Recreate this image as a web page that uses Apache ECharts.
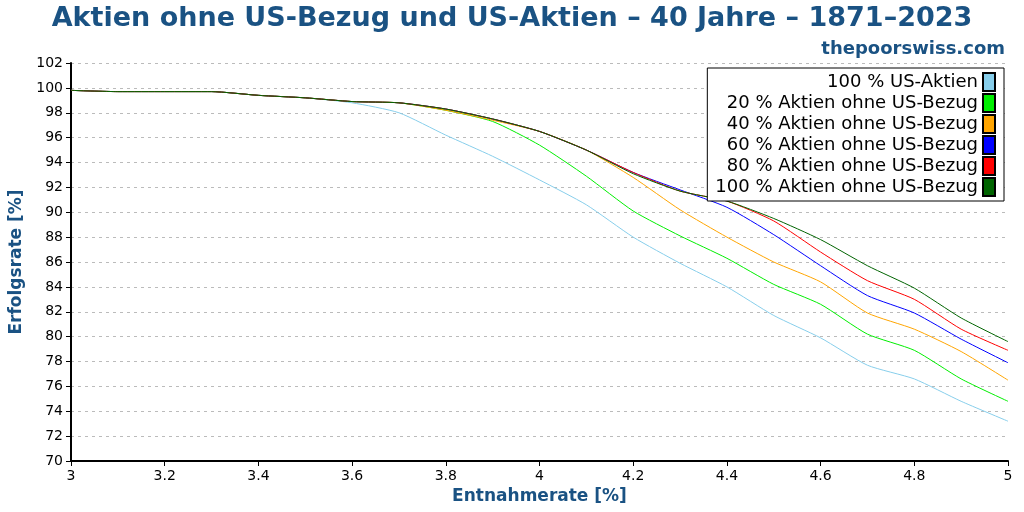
<!DOCTYPE html>
<html lang="de">
<head>
    <meta charset="UTF-8">
    <title>Aktien ohne US-Bezug</title>
    <script src="https://cdn.jsdelivr.net/npm/echarts@6/dist/echarts.min.js"></script>
</head>
<body style="margin:0">
    <div id="main" style="width:1024px;height:512px"></div>
    <script>
        // Entnahmerate in %
        var rates = ['3', '3.1', '3.2', '3.3', '3.4', '3.5', '3.6', '3.7', '3.8', '3.9', '4', '4.1', '4.2', '4.3', '4.4', '4.5', '4.6', '4.7', '4.8', '4.9', '5'];
        var names = ['100 % US-Aktien', '20 % Aktien ohne US-Bezug', '40 % Aktien ohne US-Bezug', '60 % Aktien ohne US-Bezug', '80 % Aktien ohne US-Bezug', '100 % Aktien ohne US-Bezug'];
        var colors = ['#87ceeb', '#00ee00', '#ffa500', '#0000ff', '#ff0000', '#006400'];

        var us100 = [99.8, 99.7, 99.7, 99.7, 99.4, 99.2, 98.8, 98.0, 96.2, 94.5, 92.6, 90.6, 88.0, 85.9, 84.0, 81.7, 79.9, 77.7, 76.6, 74.8, 73.2];
        var exus20 = [99.8, 99.7, 99.7, 99.7, 99.4, 99.2, 98.9, 98.8, 98.2, 97.3, 95.4, 92.9, 90.1, 88.1, 86.3, 84.2, 82.6, 80.2, 78.9, 76.6, 74.8];
        var exus40 = [99.8, 99.7, 99.7, 99.7, 99.4, 99.2, 98.9, 98.8, 98.2, 97.4, 96.5, 95.0, 92.8, 90.2, 88.0, 86.0, 84.4, 81.9, 80.6, 78.8, 76.5];
        var exus60 = [99.8, 99.7, 99.7, 99.7, 99.4, 99.2, 98.9, 98.8, 98.3, 97.5, 96.5, 95.0, 93.2, 91.8, 90.4, 88.2, 85.7, 83.3, 81.9, 79.8, 77.9];
        var exus80 = [99.8, 99.7, 99.7, 99.7, 99.4, 99.2, 98.9, 98.8, 98.3, 97.5, 96.5, 95.0, 93.2, 91.7, 90.9, 89.3, 86.8, 84.5, 83.0, 80.6, 78.9];
        var exus100 = [99.8, 99.7, 99.7, 99.7, 99.4, 99.2, 98.9, 98.8, 98.3, 97.5, 96.5, 95.0, 93.1, 91.7, 90.9, 89.5, 87.8, 85.7, 83.9, 81.5, 79.6];
        var allData = [us100, exus20, exus40, exus60, exus80, exus100];

        var myChart = echarts.init(document.getElementById('main'));

        var series = [];
        for (var i = 0; i < names.length; i++) {
            var pts = [];
            for (var j = 0; j < rates.length; j++) {
                pts.push([Number(rates[j]), allData[i][j]]);
            }
            series.push({
                name: names[i],
                type: 'line',
                data: pts,
                showSymbol: false,
                smooth: 0.2,
                lineStyle: { width: 1, color: colors[i] },
                itemStyle: { color: colors[i], borderColor: '#000', borderWidth: 1 }
            });
        }

        var option = {
            animation: false,
            textStyle: { fontFamily: 'DejaVu Sans' },
            title: [{
                text: 'Aktien ohne US-Bezug und US-Aktien – 40 Jahre – 1871–2023',
                left: 'center', top: 0,
                textStyle: { color: '#1a5283', fontSize: 27, fontWeight: 'bold' }
            }, {
                text: 'thepoorswiss.com',
                right: 14, top: 35,
                textStyle: { color: '#1a5283', fontSize: 18, fontWeight: 'bold' }
            }],
            legend: {
                data: names,
                orient: 'vertical',
                right: 20, top: 68,
                align: 'right',
                icon: 'rect',
                itemWidth: 12, itemHeight: 18,
                itemGap: 1,
                backgroundColor: '#fff',
                borderColor: '#000', borderWidth: 1,
                padding: [4, 8, 4, 8],
                textStyle: { fontSize: 18, color: '#000' }
            },
            grid: { left: 70, right: 16, top: 63, bottom: 51 },
            xAxis: {
                type: 'value', min: 3, max: 5, interval: 0.2,
                name: 'Entnahmerate [%]', nameLocation: 'middle', nameGap: 26,
                nameTextStyle: { color: '#1a5283', fontSize: 17, fontWeight: 'bold' },
                axisLine: { lineStyle: { color: '#000', width: 2 } },
                axisTick: { lineStyle: { color: '#000' }, length: 5 },
                axisLabel: { color: '#000', fontSize: 14 },
                splitLine: { show: false }
            },
            yAxis: {
                type: 'value', min: 70, max: 102, interval: 2,
                name: 'Erfolgsrate [%]', nameLocation: 'middle', nameGap: 46,
                nameTextStyle: { color: '#1a5283', fontSize: 17, fontWeight: 'bold' },
                axisLine: { show: true, lineStyle: { color: '#000', width: 2 } },
                axisTick: { show: true, inside: false, length: 5, lineStyle: { color: '#000' } },
                axisLabel: { color: '#000', fontSize: 14 },
                splitLine: { lineStyle: { color: '#bbb', type: [3, 4] } }
            },
            series: series
        };

        myChart.setOption(option);
    </script>
</body>
</html>
